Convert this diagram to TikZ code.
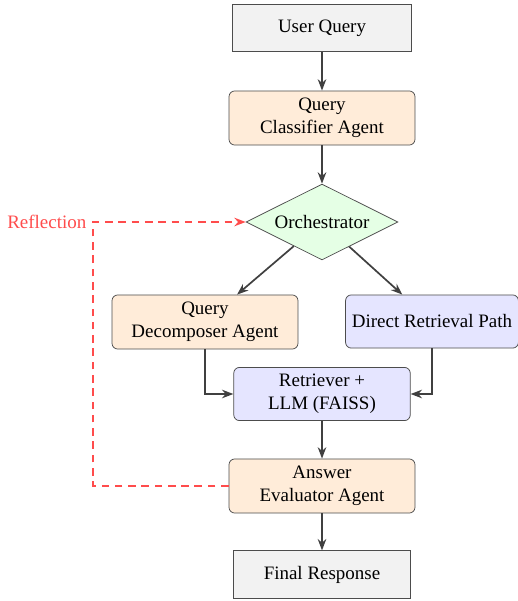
\documentclass[tikz,border=0pt]{standalone}
\usepackage{fontspec}
\setmainfont{Liberation Serif}
\usetikzlibrary{arrows.meta}
\usetikzlibrary{shapes.geometric}

\tikzset{
  iobox/.style={rectangle, draw=black!70, fill=black!5, minimum width=93pt, minimum height=25pt, align=center},
  agentbox/.style={rectangle, rounded corners=3pt, draw=black!70, fill=orange!15, minimum width=98pt, minimum height=28.5pt, align=center},
  toolbox/.style={rectangle, rounded corners=3pt, draw=black!70, fill=blue!10, minimum height=28pt, align=center},
  decision/.style={diamond, aspect=2, draw=black!70, fill=green!10, minimum width=80pt, minimum height=40pt, inner sep=1pt},
  flowarrow/.style={-{Stealth[length=6pt]}, line width=0.9pt, draw=black!75},
  reflectline/.style={-{Stealth[length=6pt]}, line width=0.9pt, draw=red!70, dash pattern=on 4pt off 3pt}
}

\begin{document}
\begin{tikzpicture}[x=0.527pt, y=-0.527pt]
  \useasboundingbox (0, 0) rectangle (518, 601);

  % main column
  \node[iobox, minimum width=94pt] (user) at (322, 28) {User Query};
  \node[agentbox] (classifier) at (322, 118) {Query\\Classifier Agent};
  \node[decision] (orch) at (322, 222) {Orchestrator};
  \node[agentbox] (decomp) at (205, 322) {Query\\Decomposer Agent};
  \node[toolbox] (direct) at (432, 321.5) {Direct Retrieval Path};
  \node[toolbox, minimum width=93pt] (retr) at (322, 394) {Retriever +\\LLM (FAISS)};
  \node[agentbox] (eval) at (322, 486) {Answer\\Evaluator Agent};
  \node[iobox] (final) at (322, 574.5) {Final Response};

  % reflection loop
  \coordinate (bend) at (93, 222);
  \node[left, text=red!70] (refl) at (bend) {Reflection};

  \draw[flowarrow] (user) -- (classifier);
  \draw[flowarrow] (classifier) -- (orch);
  \draw[flowarrow] (orch) -- (decomp);
  \draw[flowarrow] (orch) -- (direct);
  \draw[flowarrow] (decomp) |- (retr);
  \draw[flowarrow] (direct) |- (retr);
  \draw[flowarrow] (retr) -- (eval);
  \draw[flowarrow] (eval) -- (final);
  \draw[reflectline] (eval.west) -| (bend) -- (orch.west);
\end{tikzpicture}
\end{document}
